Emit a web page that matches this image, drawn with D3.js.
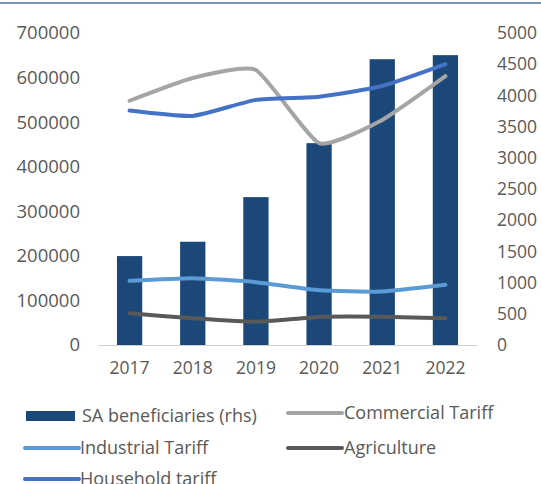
<!DOCTYPE html>
<html>
<head>
<meta charset="utf-8">
<script src="https://cdn.jsdelivr.net/npm/d3@7/dist/d3.min.js"></script>
<style>
  html, body { margin: 0; padding: 0; background: #ffffff; }
  svg { display: block; }
  text { font-family: "Open Sans", "Liberation Sans", sans-serif; fill: #595959; }
</style>
</head>
<body>
<svg id="chart" width="541" height="484"></svg>
<script>
// Years on the category axis
const years = ["2017", "2018", "2019", "2020", "2021", "2022"];

// SA beneficiaries, plotted against the right-hand axis
const beneficiaries = [1425, 1655, 2370, 3235, 4580, 4645];

// Tariff series, plotted against the left-hand axis
const commercialTariff = [548000, 599000, 617000, 453000, 505000, 603000];
const industrialTariff = [144000, 150000, 141000, 123000, 120000, 135000];
const agriculture      = [71000, 60000, 52000, 63000, 63500, 60000];
const householdTariff  = [526000, 514000, 550000, 557000, 581000, 630000];

// Axis ticks
const leftTicks  = [0, 100000, 200000, 300000, 400000, 500000, 600000, 700000];
const rightTicks = [0, 500, 1000, 1500, 2000, 2500, 3000, 3500, 4000, 4500, 5000];

const svg = d3.select("#chart");

const plot = { left: 98, right: 477, top: 33, bottom: 345 };

const x = d3.scaleBand().domain(years).range([plot.left, plot.right]).paddingInner(0.6).paddingOuter(0.3);
const yLeft = d3.scaleLinear().domain([0, 700000]).range([plot.bottom, plot.top]);
const yRight = d3.scaleLinear().domain([0, 5000]).range([plot.bottom, plot.top]);

// Thin rule along the top edge
svg.append("line")
  .attr("x1", 0).attr("x2", 541).attr("y1", 3).attr("y2", 3)
  .attr("stroke", "#7895ba").attr("stroke-width", 2);

// Bars
svg.append("g").selectAll("rect")
  .data(years)
  .join("rect")
  .attr("x", d => x(d))
  .attr("width", x.bandwidth())
  .attr("y", (d, i) => yRight(beneficiaries[i]))
  .attr("height", (d, i) => yRight(0) - yRight(beneficiaries[i]))
  .attr("fill", "#1b4879");

// Baseline
svg.append("line")
  .attr("x1", plot.left).attr("x2", plot.right)
  .attr("y1", plot.bottom + 0.5).attr("y2", plot.bottom + 0.5)
  .attr("stroke", "#d0d0d0").attr("stroke-width", 1);

// Smoothed tariff lines
const lineSeries = [
  { name: "Commercial Tariff", values: commercialTariff, color: "#a5a5a5" },
  { name: "Industrial Tariff", values: industrialTariff, color: "#5b9bd5" },
  { name: "Agriculture",       values: agriculture,      color: "#595959" },
  { name: "Household tariff",  values: householdTariff,  color: "#4472c4" }
];

const line = d3.line()
  .x((d, i) => x(years[i]) + x.bandwidth() / 2)
  .y(d => yLeft(d))
  .curve(d3.curveCardinal.tension(0.5));

svg.append("g").selectAll("path")
  .data(lineSeries)
  .join("path")
  .attr("d", s => line(s.values))
  .attr("fill", "none")
  .attr("stroke", s => s.color)
  .attr("stroke-width", 4)
  .attr("stroke-linecap", "round")
  .attr("stroke-linejoin", "round");

// Left axis
const leftAxis = d3.axisLeft(yLeft).tickValues(leftTicks).tickFormat(d3.format("d")).tickSize(0).tickPadding(0);
const gL = svg.append("g").attr("transform", "translate(80,0)").call(leftAxis);
gL.select(".domain").remove();
gL.selectAll("text").attr("font-size", 18.5).attr("fill", "#595959").attr("font-family", null);

// Right axis
const rightAxis = d3.axisRight(yRight).tickValues(rightTicks).tickFormat(d3.format("d")).tickSize(0).tickPadding(0);
const gR = svg.append("g").attr("transform", "translate(497,0)").call(rightAxis);
gR.select(".domain").remove();
gR.selectAll("text").attr("font-size", 17.5).attr("fill", "#595959").attr("font-family", null);

// Category axis
const bottomAxis = d3.axisBottom(x).tickSize(0).tickPadding(0);
const gB = svg.append("g").attr("transform", "translate(0,362)").call(bottomAxis);
gB.select(".domain").remove();
gB.selectAll("text").attr("font-size", 17.5).attr("fill", "#595959").attr("font-family", null);

// Legend
const legendItems = [
  { name: "SA beneficiaries (rhs)", type: "bar",  color: "#1b4879", x: 26,  y: 416, tx: 82 },
  { name: "Commercial Tariff",      type: "line", color: "#a5a5a5", x: 288, y: 413, tx: 344 },
  { name: "Industrial Tariff",      type: "line", color: "#5b9bd5", x: 25,  y: 448, tx: 80 },
  { name: "Agriculture",            type: "line", color: "#595959", x: 288, y: 448, tx: 344 },
  { name: "Household tariff",       type: "line", color: "#4472c4", x: 25,  y: 479, tx: 80 }
];

const lg = svg.append("g").selectAll("g").data(legendItems).join("g");
lg.each(function(d) {
  const g = d3.select(this);
  if (d.type === "bar") {
    g.append("rect").attr("x", d.x).attr("y", d.y - 5).attr("width", 49).attr("height", 10).attr("fill", d.color);
  } else {
    g.append("line").attr("x1", d.x).attr("x2", d.x + 54).attr("y1", d.y).attr("y2", d.y)
      .attr("stroke", d.color).attr("stroke-width", 4).attr("stroke-linecap", "round");
  }
  g.append("text").attr("x", d.tx).attr("y", d.y).attr("dy", "0.35em")
    .attr("font-size", 18).text(d.name);
});
</script>
</body>
</html>
